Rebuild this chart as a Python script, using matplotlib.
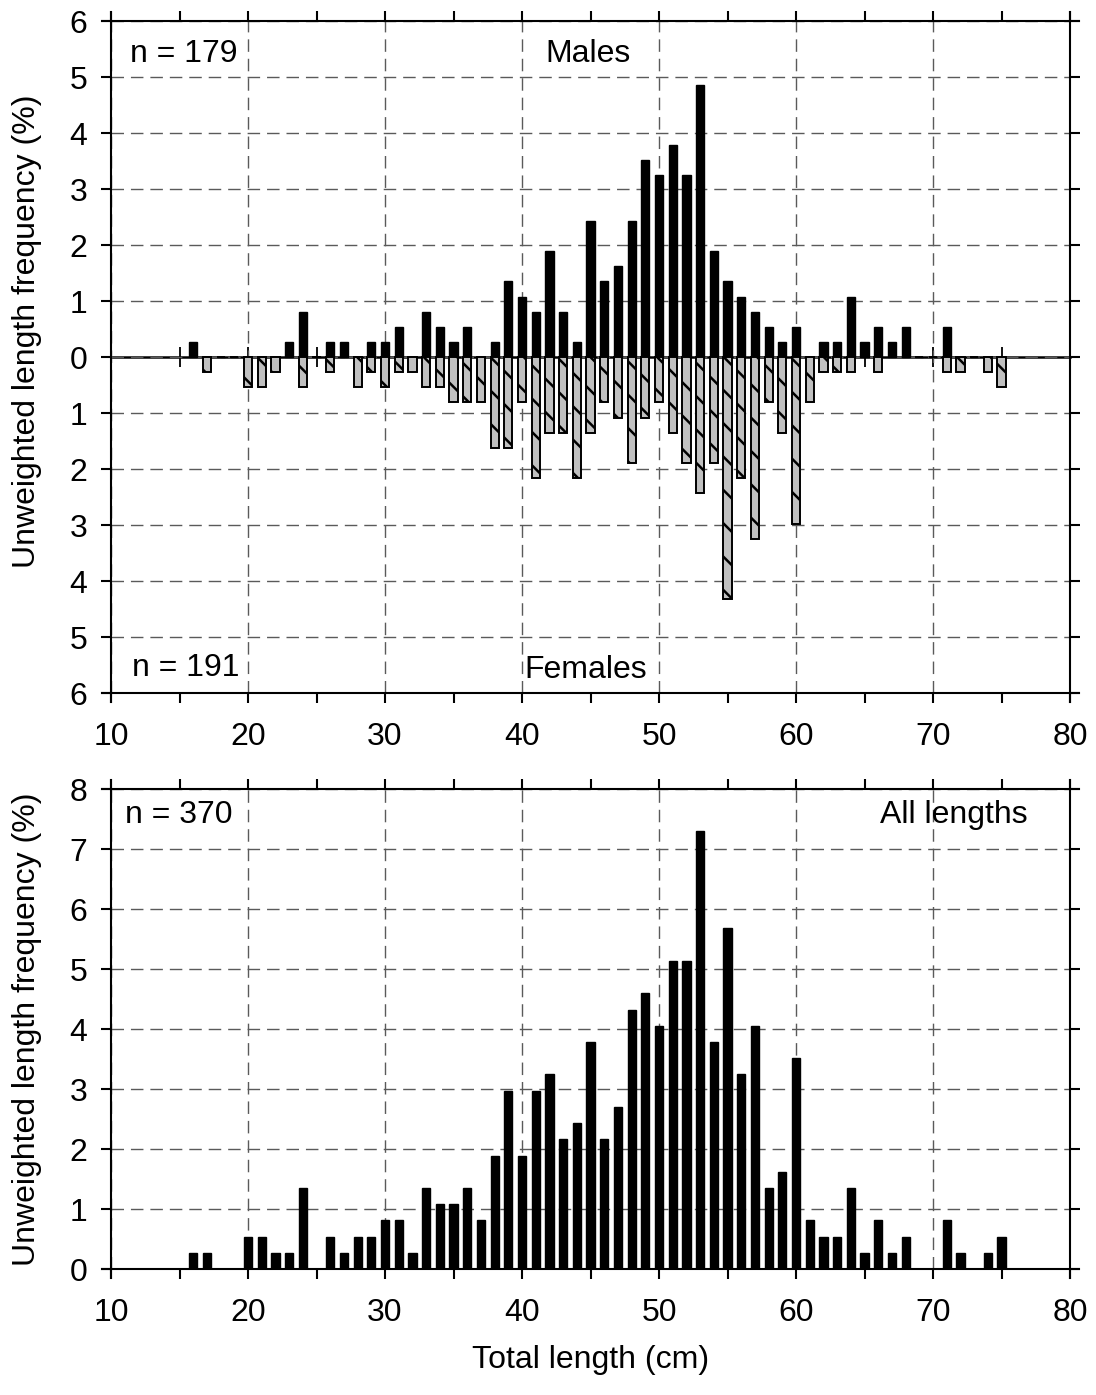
import matplotlib
matplotlib.use("Agg")
import matplotlib.pyplot as plt
import numpy as np
from matplotlib.ticker import FuncFormatter, MultipleLocator

plt.rcParams['font.family'] = ['Liberation Sans', 'DejaVu Sans']
plt.rcParams['font.size'] = 23
plt.rcParams['hatch.linewidth'] = 1.8

# total length classes (cm) and number of fish in each
lengths = list(range(16, 76))
males = [1, 0, 0, 0, 0, 0, 0, 1, 3, 0,
         1, 1, 0, 1, 1, 2, 0, 3, 2, 1,
         2, 0, 1, 5, 4, 3, 7, 3, 1, 9,
         5, 6, 9, 13, 12, 14, 12, 18, 7, 5,
         4, 3, 2, 1, 2, 0, 1, 1, 4, 1,
         2, 1, 2, 0, 0, 2, 0, 0, 0, 0]
females = [0, 1, 0, 0, 2, 2, 1, 0, 2, 0,
           1, 0, 2, 1, 2, 1, 1, 2, 2, 3,
           3, 3, 6, 6, 3, 8, 5, 5, 8, 5,
           3, 4, 7, 4, 3, 5, 7, 9, 7, 16,
           8, 12, 3, 5, 11, 3, 1, 1, 1, 0,
           1, 0, 0, 0, 0, 1, 1, 0, 1, 2]
n_males = 179
n_females = 191

x = np.array(lengths)
m = np.array(males)
f = np.array(females)
n_all = m.sum() + f.sum()
m_pct = m / n_all * 100
f_pct = f / n_all * 100
all_pct = (m + f) / n_all * 100

grid_kw = dict(color='#5a5a5a', linewidth=1.0, linestyle=(0, (9, 5)))
bar_w = 0.6


def style_axes(ax, ymin, ymax, ext_y):
    ax.set_xlim(10, 80)
    ax.set_ylim(ymin, ymax)
    ax.xaxis.set_major_locator(MultipleLocator(10))
    ax.xaxis.set_minor_locator(MultipleLocator(5))
    ax.yaxis.set_major_locator(MultipleLocator(1))
    ax.tick_params(which='both', direction='out', top=True, right=True,
                   labeltop=False, labelright=False, length=7, width=1.5)
    ax.tick_params(axis='x', pad=14)
    ax.tick_params(axis='y', pad=10)
    for s in ax.spines.values():
        s.set_linewidth(1.5)
    # axis lines run on past the corners, as in the original
    ax.spines['left'].set_bounds(ymin - ext_y, ymax + ext_y)
    ax.spines['right'].set_bounds(ymin - ext_y, ymax + ext_y)
    ax.spines['top'].set_bounds(9.34, 80.66)
    ax.spines['bottom'].set_bounds(9.34, 80.66)
    ax.set_axisbelow(True)
    ax.grid(True, which='major', **grid_kw)


fig = plt.figure(figsize=(10.96, 13.95), dpi=100)
ax1 = fig.add_axes([0.1013, 0.5032, 0.875, 0.4817])
ax2 = fig.add_axes([0.1013, 0.0903, 0.875, 0.3441])

# top: males up, females down
style_axes(ax1, -6, 6, 0.16)
ax1.bar(x, m_pct, width=bar_w, color='black', edgecolor='black', linewidth=1.0, zorder=3)
ax1.bar(x, -f_pct, width=bar_w, color='#c0c0c0', edgecolor='black', linewidth=1.4,
        hatch='\\', zorder=3)
ax1.yaxis.set_major_formatter(FuncFormatter(lambda v, p: f"{abs(v):.0f}"))

zero_ax = ax1.secondary_xaxis(0.5)
zero_ax.set_xticks(np.arange(15, 80, 5))
zero_ax.tick_params(direction='inout', length=15, width=1.3,
                    labelbottom=False, labeltop=False)
for s in zero_ax.spines.values():
    s.set_linewidth(1.8)

ax1.text(0.02, 0.939, f"n = {n_males}", transform=ax1.transAxes, va='baseline', ha='left')
ax1.text(0.497, 0.939, "Males", transform=ax1.transAxes, va='baseline', ha='center')
ax1.text(0.022, 0.026, f"n = {n_females}", transform=ax1.transAxes, va='baseline', ha='left')
ax1.text(0.495, 0.023, "Females", transform=ax1.transAxes, va='baseline', ha='center')
ax1.set_ylabel("Unweighted length frequency (%)")
ax1.yaxis.set_label_coords(-0.072, 0.539)

# bottom: all fish
style_axes(ax2, 0, 8, 0.15)
ax2.bar(x, all_pct, width=bar_w, color='black', edgecolor='black', linewidth=1.0, zorder=3)
ax2.text(0.015, 0.929, f"n = {n_all}", transform=ax2.transAxes, va='baseline', ha='left')
ax2.text(0.956, 0.929, "All lengths", transform=ax2.transAxes, va='baseline', ha='right')
ax2.set_ylabel("Unweighted length frequency (%)")
ax2.yaxis.set_label_coords(-0.072, 0.5)
ax2.set_xlabel("Total length (cm)", labelpad=12)

fig.savefig("out.png", dpi=100)
